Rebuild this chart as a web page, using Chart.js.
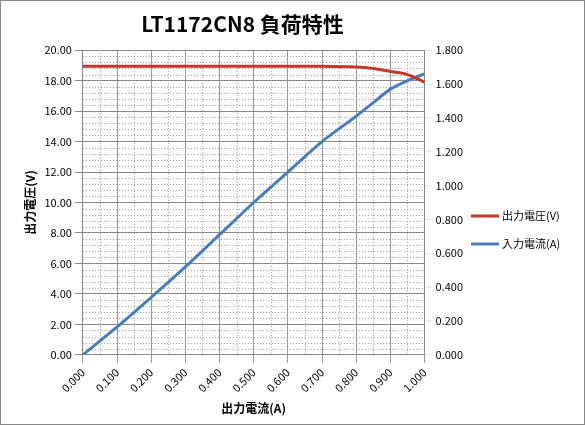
<!DOCTYPE html>
<html>
<head>
<meta charset="utf-8">
<script src="https://cdn.jsdelivr.net/npm/chart.js"></script>
<style>
body { margin: 0; background: #fff; }
#wrap { width: 583px; height: 423px; border: 1px solid #888; }
</style>
</head>
<body>
<div id="wrap"><canvas id="chart" width="583" height="423"></canvas></div>
<script>
// data
const current = [0, 0.1, 0.2, 0.3, 0.4, 0.5, 0.6, 0.7, 0.8, 0.85, 0.9, 0.95, 1.0];
const voltage = [18.95, 18.95, 18.95, 18.95, 18.95, 18.95, 18.95, 18.95, 18.9, 18.8, 18.6, 18.4, 17.9];
const inputCurrent = [0, 0.165, 0.34, 0.52, 0.71, 0.9, 1.08, 1.26, 1.41, 1.49, 1.57, 1.62, 1.66];

const font = "'Noto Sans CJK JP', 'Liberation Sans', sans-serif";

// dotted minor grid lines
const minorGrid = {
    id: 'minorGrid',
    beforeDatasetsDraw(chart) {
        const ctx = chart.ctx, a = chart.chartArea;
        const x = chart.scales.x, y = chart.scales.y;
        ctx.save();
        ctx.strokeStyle = '#999';
        ctx.lineWidth = 1;
        ctx.setLineDash([1, 2]);
        for (let v = 0.05; v < 1; v += 0.1) {
            const px = Math.round(x.getPixelForValue(v)) + 0.5;
            ctx.beginPath(); ctx.moveTo(px, a.top); ctx.lineTo(px, a.bottom); ctx.stroke();
        }
        for (let v = 0; v < 20; v += 0.4) {
            if (Math.abs(v / 2 - Math.round(v / 2)) < 0.01) continue;
            const py = Math.round(y.getPixelForValue(v)) + 0.5;
            ctx.beginPath(); ctx.moveTo(a.left, py); ctx.lineTo(a.right, py); ctx.stroke();
        }
        ctx.restore();
    }
};

// legend on the right, drawn by hand
const sideLegend = {
    id: 'sideLegend',
    afterDraw(chart) {
        const ctx = chart.ctx;
        ctx.save();
        ctx.font = "11px " + font;
        ctx.textBaseline = 'middle';
        chart.data.datasets.forEach((ds, i) => {
            const yy = 215 + i * 28;
            ctx.strokeStyle = ds.borderColor;
            ctx.lineWidth = 3;
            ctx.beginPath(); ctx.moveTo(470, yy); ctx.lineTo(498, yy); ctx.stroke();
            ctx.fillStyle = '#000';
            ctx.fillText(ds.label, 501, yy);
        });
        ctx.restore();
    }
};

new Chart(document.getElementById('chart'), {
    type: 'line',
    data: {
        datasets: [{
            label: '出力電圧(V)',
            data: current.map((c, i) => ({x: c, y: voltage[i]})),
            borderColor: '#c0392b',
            borderWidth: 3,
            pointRadius: 0,
            tension: 0.3,
            yAxisID: 'y'
        }, {
            label: '入力電流(A)',
            data: current.map((c, i) => ({x: c, y: inputCurrent[i]})),
            borderColor: '#4a7ebb',
            borderWidth: 3,
            pointRadius: 0,
            tension: 0.3,
            yAxisID: 'y2'
        }]
    },
    options: {
        responsive: false,
        animation: false,
        layout: { padding: { left: 18, right: 118, top: 0, bottom: 4 } },
        plugins: {
            title: {
                display: true,
                text: 'LT1172CN8 負荷特性',
                font: { family: font, size: 21, weight: 'bold' },
                color: '#000',
                padding: { top: 10, bottom: 14 }
            },
            legend: { display: false }
        },
        scales: {
            x: {
                type: 'linear',
                min: 0, max: 1,
                ticks: {
                    stepSize: 0.1,
                    maxRotation: 45, minRotation: 45,
                    color: '#000',
                    font: { family: font, size: 11 },
                    callback: v => v.toFixed(3)
                },
                grid: { color: '#999' },
                border: { color: '#888' },
                title: {
                    display: true, text: '出力電流(A)', color: '#000',
                    font: { family: font, size: 12, weight: 'bold' }
                }
            },
            y: {
                position: 'left',
                min: 0, max: 20,
                ticks: {
                    stepSize: 2, color: '#000',
                    font: { family: font, size: 11 },
                    callback: v => v.toFixed(2)
                },
                grid: { color: '#888' },
                border: { color: '#888' },
                title: {
                    display: true, text: '出力電圧(V)', color: '#000',
                    font: { family: font, size: 12, weight: 'bold' }
                }
            },
            y2: {
                position: 'right',
                min: 0, max: 1.8,
                ticks: {
                    stepSize: 0.2, color: '#000',
                    font: { family: font, size: 11 },
                    callback: v => v.toFixed(3)
                },
                grid: { drawOnChartArea: false },
                border: { color: '#888' }
            }
        }
    },
    plugins: [minorGrid, sideLegend]
});
</script>
</body>
</html>
